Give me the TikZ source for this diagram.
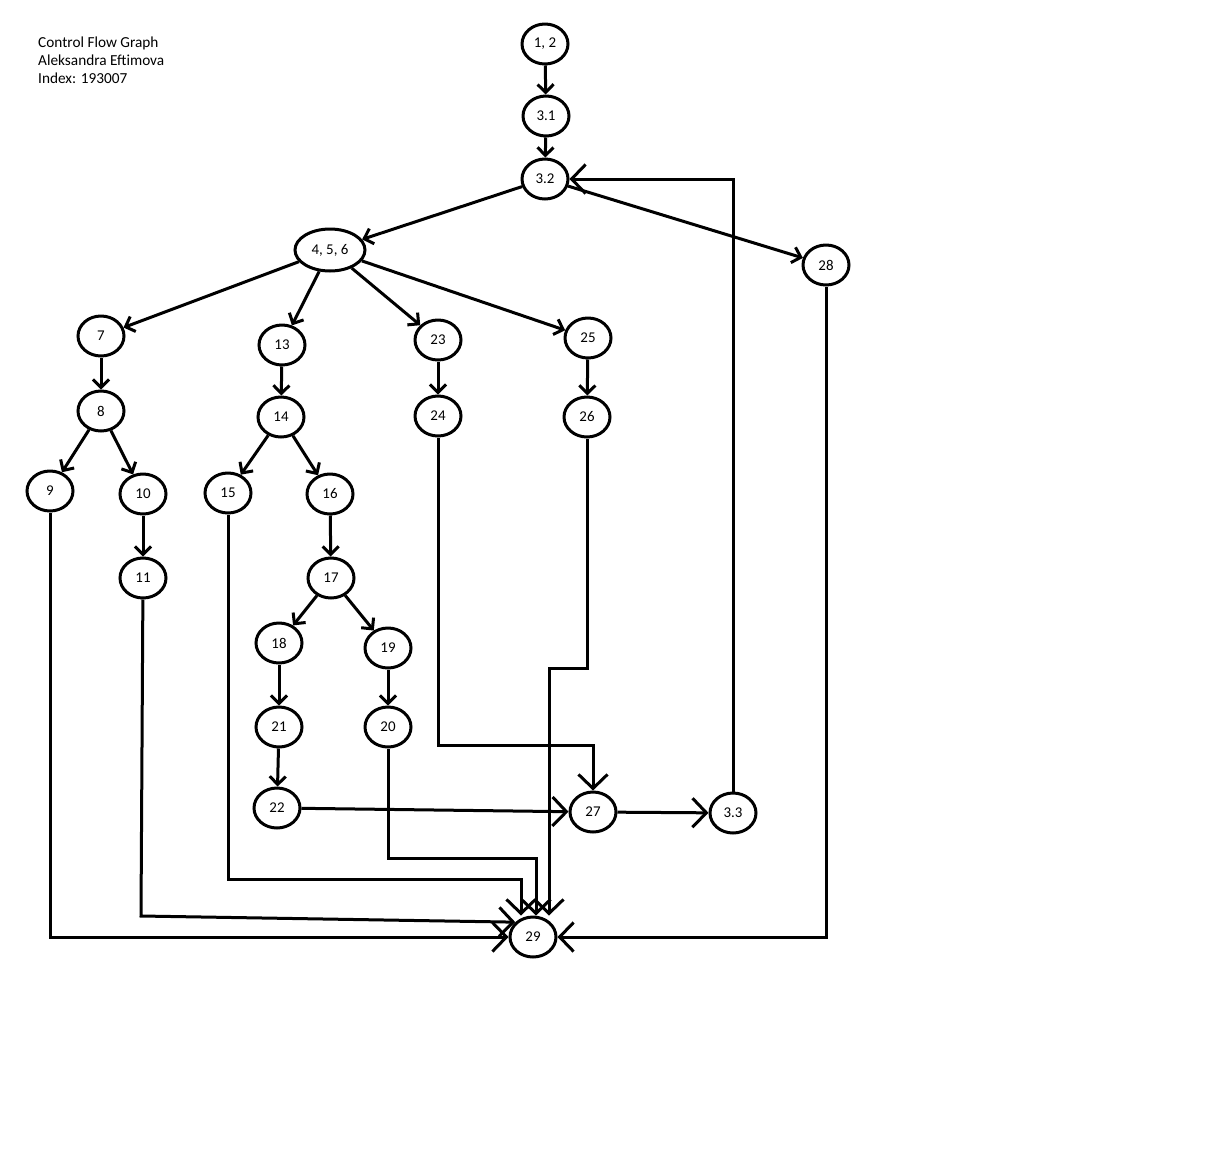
\documentclass[tikz,border=0pt]{standalone}
\usepackage{fontspec}
\setmainfont{Carlito}
\usetikzlibrary{shapes.geometric, arrows.meta}
\tikzset{
  flow node/.style={
    ellipse,
    draw,
    line width=0.06cm,
    minimum width=0.92cm,
    minimum height=0.8cm,
    inner sep=0pt,
    font=\fontsize{8.5}{10}\selectfont,
  },
  flow edge/.style={
    line width=0.06cm,
    -{Straight Barb[length=0.16cm, width=0.32cm]},
  },
  big edge/.style={
    line width=0.06cm,
    -{Straight Barb[length=0.28cm, width=0.58cm]},
  },
}
\begin{document}
\begin{tikzpicture}[x=0.02cm, y=-0.02cm]
      \useasboundingbox (0,0) rectangle (1220,1170);

      \node[anchor=north west, align=left, font=\fontsize{8.7}{10.2}\selectfont] (title) at (32,31)
        {Control Flow Graph\\Aleksandra Eftimova\\Index: 193007};

      \node[flow node] (n12)  at (545,44)  {1, 2};
      \node[flow node] (n31)  at (546,116) {3.1};
      \node[flow node] (n32)  at (545,179) {3.2};
      \node[flow node, minimum width=1.4cm, minimum height=0.84cm] (n456) at (330,250) {4, 5, 6};
      \node[flow node] (n28)  at (826,265) {28};
      \node[flow node] (n7)   at (101,336) {7};
      \node[flow node] (n13)  at (282,345) {13};
      \node[flow node] (n23)  at (438,340) {23};
      \node[flow node] (n25)  at (588,338) {25};
      \node[flow node] (n8)   at (101,411) {8};
      \node[flow node] (n14)  at (281,417) {14};
      \node[flow node] (n24)  at (438,416) {24};
      \node[flow node] (n26)  at (587,417) {26};
      \node[flow node] (n9)   at (50,491)  {9};
      \node[flow node] (n10)  at (143,494) {10};
      \node[flow node] (n15)  at (228,493) {15};
      \node[flow node] (n16)  at (330,494) {16};
      \node[flow node] (n11)  at (143,578) {11};
      \node[flow node] (n17)  at (331,578) {17};
      \node[flow node] (n18)  at (279,643) {18};
      \node[flow node] (n19)  at (388,648) {19};
      \node[flow node] (n21)  at (279,727) {21};
      \node[flow node] (n20)  at (388,727) {20};
      \node[flow node] (n22)  at (277,808) {22};
      \node[flow node] (n27)  at (593,812) {27};
      \node[flow node] (n33)  at (733,813) {3.3};
      \node[flow node] (n29)  at (533,937) {29};

      \coordinate (c24) at (593,745);
      \coordinate (c26) at (549,668);
      \coordinate (c15) at (521,879);
      \coordinate (c20) at (536,858);
      \coordinate (c11) at (141,916);

      % straight edges
      \path[flow edge] (n12) edge (n31);
      \path[flow edge] (n31) edge (n32);
      \path[flow edge] (n32) edge (n456);
      \path[flow edge] (n32) edge (n28);
      \path[flow edge] (n456) edge (n7);
      \path[flow edge] (n456) edge (n13);
      \path[flow edge] (n456) edge (n23);
      \path[flow edge] (n456) edge (n25);
      \path[flow edge] (n7)  edge (n8);
      \path[flow edge] (n8)  edge (n9);
      \path[flow edge] (n8)  edge (n10);
      \path[flow edge] (n10) edge (n11);
      \path[flow edge] (n13) edge (n14);
      \path[flow edge] (n14) edge (n15);
      \path[flow edge] (n14) edge (n16);
      \path[flow edge] (n16) edge (n17);
      \path[flow edge] (n17) edge (n18);
      \path[flow edge] (n17) edge (n19);
      \path[flow edge] (n18) edge (n21);
      \path[flow edge] (n19) edge (n20);
      \path[flow edge] (n21) edge (n22);
      \path[flow edge] (n23) edge (n24);
      \path[flow edge] (n25) edge (n26);

      % routed edges
      \draw[big edge] (n24) |- (c24) -- (n27);
      \draw[big edge] (n22) -- (n27);
      \draw[big edge] (n27) -- (n33);
      \draw[big edge] (n33) |- (n32);
      \draw[big edge] (n26) |- (c26) -- (c26 |- n29.north);
      \draw[big edge] (n20) |- (c20) -- (c20 |- n29.north);
      \draw[big edge] (n15) |- (c15) -- (c15 |- n29.north);
      \draw[big edge] (n11) -- (c11) -- (n29.140);
      \draw[big edge] (n9)  |- (n29);
      \draw[big edge] (n28) |- (n29);
    \end{tikzpicture}
\end{document}
